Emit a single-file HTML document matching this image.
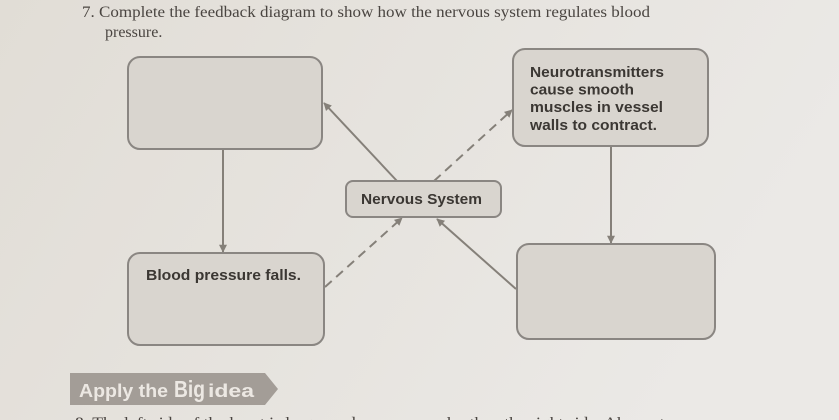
<!DOCTYPE html>
<html>
<head>
<meta charset="utf-8">
<style>
html,body{margin:0;padding:0;width:839px;height:420px;overflow:hidden;}
svg{display:block;}
</style>
</head>
<body>
<svg width="839" height="420" viewBox="0 0 839 420" xmlns="http://www.w3.org/2000/svg">
  <defs>
    <linearGradient id="bg" x1="0" y1="0" x2="1" y2="0.3">
      <stop offset="0" stop-color="#e1ddd6"/>
      <stop offset="0.5" stop-color="#e6e3de"/>
      <stop offset="1" stop-color="#ebe9e6"/>
    </linearGradient>
    <marker id="ah" viewBox="0 0 10 10" refX="9" refY="5" markerWidth="9" markerHeight="8" markerUnits="userSpaceOnUse" orient="auto">
      <path d="M0,0 L10,5 L0,10 z" fill="#858079"/>
    </marker>
  </defs>
  <rect width="839" height="420" fill="url(#bg)"/>

  <!-- Title -->
  <text x="82" y="17" font-family="Liberation Serif, serif" font-size="16" fill="#4a4541" textLength="568" lengthAdjust="spacingAndGlyphs">7. Complete the feedback diagram to show how the nervous system regulates blood</text>
  <text x="105" y="37" font-family="Liberation Serif, serif" font-size="16" fill="#4a4541">pressure.</text>

  <!-- Connectors -->
  <g stroke="#858079" stroke-width="2" fill="none">
    <line x1="223" y1="149" x2="223" y2="252" marker-end="url(#ah)"/>
    <line x1="611" y1="146" x2="611" y2="243" marker-end="url(#ah)"/>
    <line x1="397" y1="181" x2="324" y2="103" marker-end="url(#ah)"/>
    <line x1="516" y1="289" x2="437" y2="219" marker-end="url(#ah)"/>
    <line x1="325" y1="287" x2="402" y2="218" stroke-dasharray="9,6" marker-end="url(#ah)"/>
    <line x1="434" y1="181" x2="512" y2="110" stroke-dasharray="9,6" marker-end="url(#ah)"/>
  </g>

  <!-- Boxes -->
  <g fill="#d9d5cf" stroke="#8a8682" stroke-width="2">
    <rect x="128" y="57" width="194" height="92" rx="12"/>
    <rect x="513" y="49" width="195" height="97" rx="12"/>
    <rect x="346" y="181" width="155" height="36" rx="7"/>
    <rect x="128" y="253" width="196" height="92" rx="12"/>
    <rect x="517" y="244" width="198" height="95" rx="12"/>
  </g>

  <!-- Box text -->
  <g font-family="Liberation Sans, sans-serif" font-weight="bold" font-size="14.5" fill="#3b3733">
    <text x="530" y="77" textLength="134" lengthAdjust="spacingAndGlyphs">Neurotransmitters</text>
    <text x="530" y="94.5" textLength="104" lengthAdjust="spacingAndGlyphs">cause smooth</text>
    <text x="530" y="112" textLength="133" lengthAdjust="spacingAndGlyphs">muscles in vessel</text>
    <text x="530" y="130" textLength="127" lengthAdjust="spacingAndGlyphs">walls to contract.</text>
    <text x="361" y="204" textLength="121" lengthAdjust="spacingAndGlyphs">Nervous System</text>
    <text x="146" y="280" textLength="155" lengthAdjust="spacingAndGlyphs">Blood pressure falls.</text>
  </g>

  <!-- Apply the Big idea banner -->
  <polygon points="70,373 265,373 278,389 265,405 70,405" fill="#a39d97"/>
  <g font-family="Liberation Sans, sans-serif" font-weight="bold" fill="#ece8e3">
    <text x="79" y="397" font-size="18" textLength="89" lengthAdjust="spacingAndGlyphs">Apply the</text>
    <text x="174" y="397" font-size="23" textLength="31" lengthAdjust="spacingAndGlyphs">Big</text>
    <text x="208" y="397" font-size="18" textLength="46" lengthAdjust="spacingAndGlyphs">idea</text>
  </g>

  <!-- Bottom cut-off text -->
  <text x="75" y="428" font-family="Liberation Serif, serif" font-size="16" fill="#4a4541" textLength="612" lengthAdjust="spacingAndGlyphs">8. The left side of the heart is larger and more muscular than the right side. Also, artery</text>
</svg>
</body>
</html>
